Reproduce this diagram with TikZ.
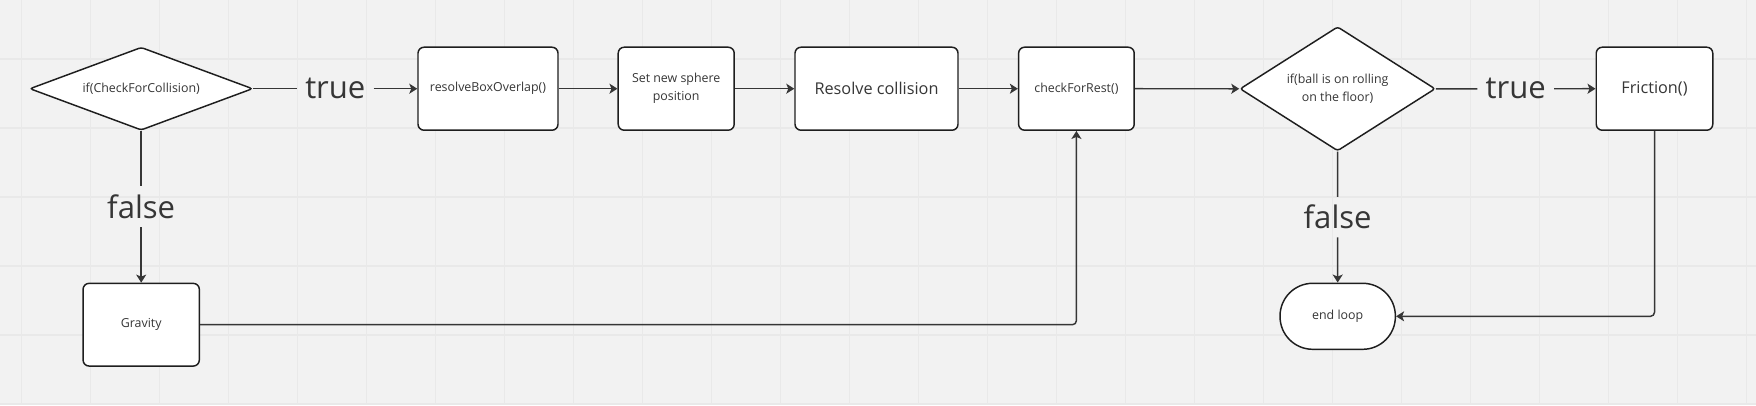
\documentclass[tikz,border=0pt]{standalone}
\usepackage{fontspec}
\setmainfont{Open Sans}
\usetikzlibrary{shapes.geometric,arrows.meta,calc}
\definecolor{bgcol}{HTML}{F2F2F2}
\definecolor{gridcol}{HTML}{E9E9E9}
\definecolor{inkcol}{HTML}{363636}
\definecolor{edgecol}{HTML}{1E1E1E}
\newcommand{\smalltxt}{\fontsize{9.3}{13.4}\selectfont}
\newcommand{\midtxt}{\fontsize{12.2}{15}\selectfont}
\newcommand{\bigtxt}{\fontsize{23.3}{28}\selectfont}

\begin{document}
\begin{tikzpicture}[x=0.75pt,y=-0.75pt,
   box/.style={draw=edgecol,fill=white,line width=1.1pt,rounded corners=4.5pt,
     minimum height=62.25pt,inner sep=0pt,align=center,text=inkcol,font=\smalltxt},
   choice/.style={diamond,draw=edgecol,fill=white,line width=1.1pt,rounded corners=2pt,
     inner sep=0pt,align=center,text=inkcol,font=\smalltxt},
   lbl/.style={text=inkcol,font=\bigtxt,inner sep=6pt},
   plain/.style={draw=inkcol,line width=1.1pt},
   flow/.style={plain,-{Stealth[length=6pt,width=7.5pt,inset=1.5pt]}}]
   \useasboundingbox (0,0) rectangle (1756,405);
   \fill[bgcol] (0,0) rectangle (1756,405);
   \foreach \gx in {0,...,25}
     \draw[gridcol,line width=1.1pt] ({21.7+69*\gx},0) -- ({21.7+69*\gx},405);
   \foreach \gy in {0,...,5}
     \draw[gridcol,line width=1.1pt] (0,{59+69*\gy}) -- (1756,{59+69*\gy});

   \node[choice,aspect=2.69,minimum width=167.25pt,minimum height=62.25pt] (d1) at (141.2,88.7) {if(CheckForCollision)};
   \node[box,minimum width=105pt] (b1) at (488,88.7) {resolveBoxOverlap()};
   \node[box,minimum width=87pt] (b2) at (676.2,88.7) {Set new sphere\\position};
   \node[box,minimum width=122.25pt,font=\midtxt] (b3) at (876.5,88.7) {Resolve collision};
   \node[box,minimum width=86.7pt] (b4) at (1076.4,88.7) {checkForRest()};
   \node[choice,aspect=1.57,minimum width=146.5pt,minimum height=93.2pt] (d2) at (1337.6,88.8) {if(ball is on rolling\\on the floor)};
   \node[box,minimum width=87.4pt,font=\midtxt] (b5) at (1654.5,88.7) {Friction()};
   \node[box,minimum width=87.2pt,minimum height=62pt] (grav) at (141.2,324.7) {Gravity};
   \node[box,minimum width=86.5pt,minimum height=49.5pt,rounded corners=24.5pt] (endl) at (1337.7,316.3) {end loop};

   \node[lbl] (t1) at ($(d1.east)!0.5!(b1.west)$) {true};
   \node[lbl] (t2) at ($(d2.east)!0.5!(b5.west)$) {true};
   \node[lbl] (f1) at ($(d1.south)!0.5!(grav.north)$) {false};
   \node[lbl] (f2) at ($(d2.south)!0.5!(endl.north)$) {false};

   \draw[plain] (d1) -- (t1);
   \draw[flow] (t1) -- (b1);
   \draw[flow] (b1) -- (b2);
   \draw[flow] (b2) -- (b3);
   \draw[flow] (b3) -- (b4);
   \draw[flow] (b4) -- (d2);
   \draw[plain] (d2) -- (t2);
   \draw[flow] (t2) -- (b5);
   \draw[plain] (d1) -- (f1);
   \draw[flow] (f1) -- (grav);
   \draw[plain] (d2) -- (f2);
   \draw[flow] (f2) -- (endl);
   \draw[flow,rounded corners=3pt] (grav) -| (b4);
   \draw[flow,rounded corners=3pt] (b5) |- (endl);
\end{tikzpicture}
\end{document}
